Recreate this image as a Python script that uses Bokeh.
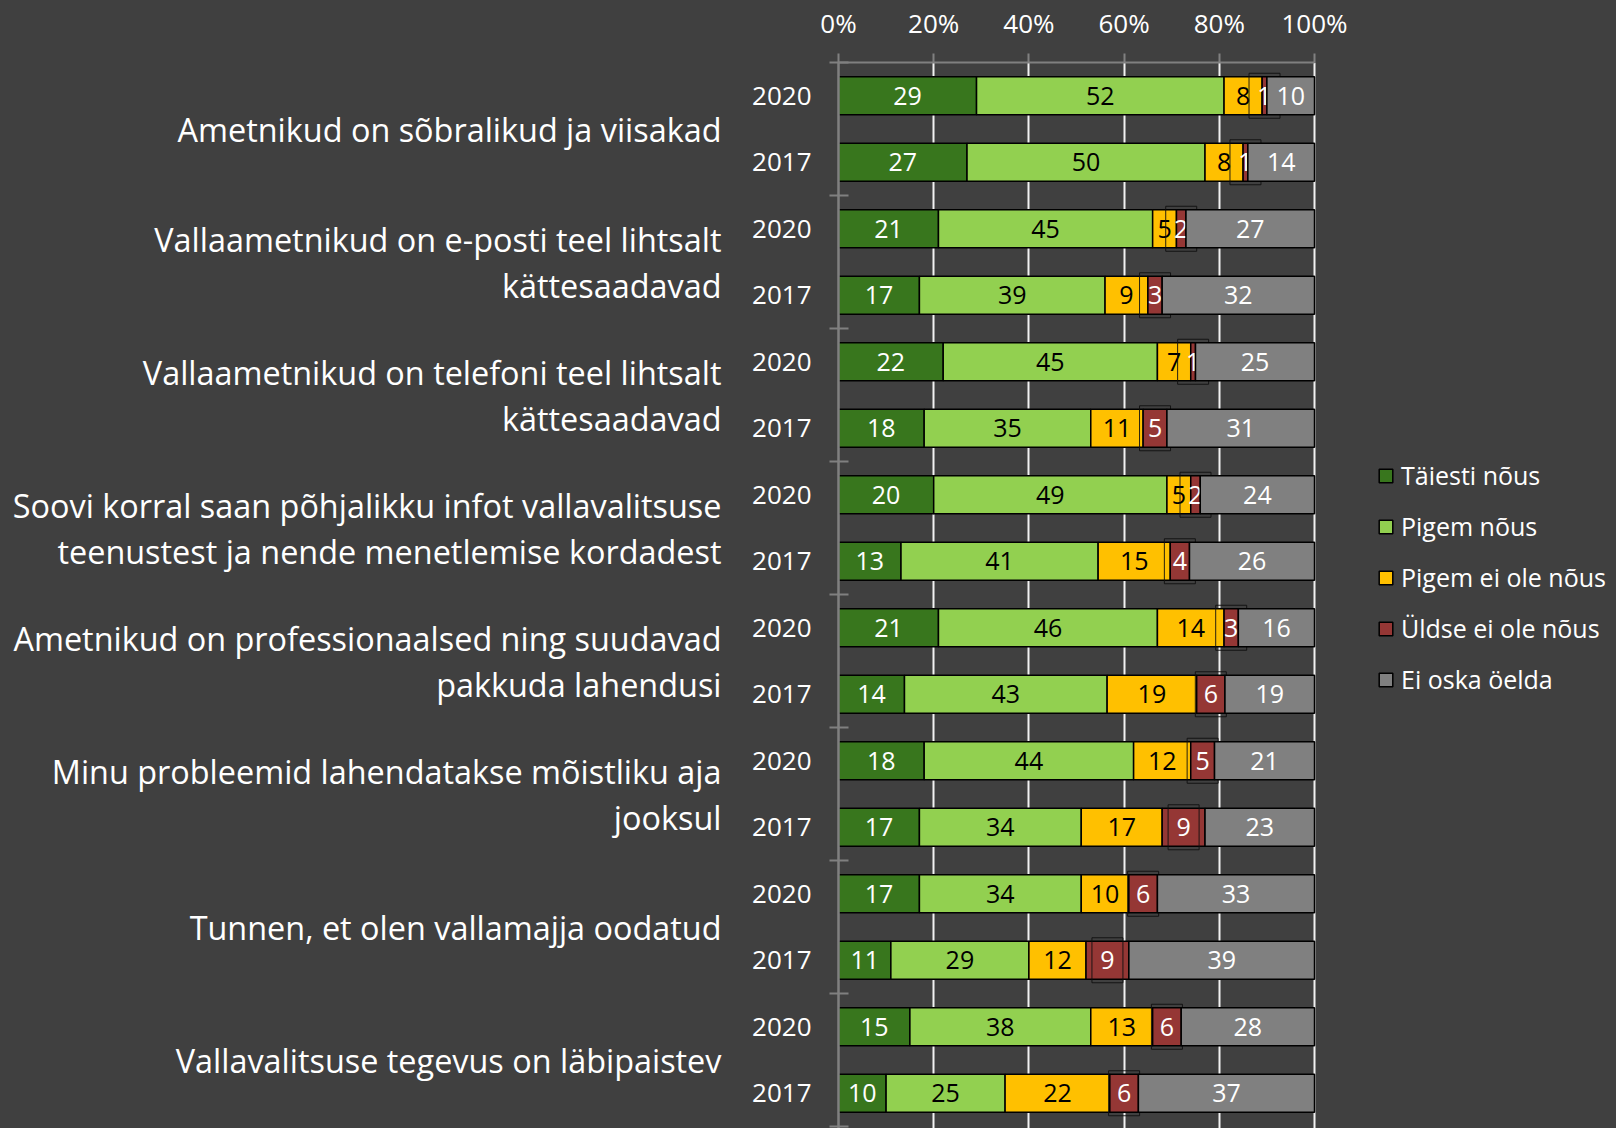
from bokeh.plotting import figure
from bokeh.models import (ColumnDataSource, Range1d, FixedTicker, Legend, LegendItem, LinearAxis)
from bokeh.core.properties import value
from bokeh.embed import file_html
from bokeh.resources import INLINE

# ---------------- data ----------------
categories = [
    "Ametnikud on sõbralikud ja viisakad",
    "Vallaametnikud on e-posti teel lihtsalt\nkättesaadavad",
    "Vallaametnikud on telefoni teel lihtsalt\nkättesaadavad",
    "Soovi korral saan põhjalikku infot vallavalitsuse\nteenustest ja nende menetlemise kordadest",
    "Ametnikud on professionaalsed ning suudavad\npakkuda lahendusi",
    "Minu probleemid lahendatakse mõistliku aja\njooksul",
    "Tunnen, et olen vallamajja oodatud",
    "Vallavalitsuse tegevus on läbipaistev",
]
years = ["2020", "2017"]
series = ["Täiesti nõus", "Pigem nõus", "Pigem ei ole nõus", "Üldse ei ole nõus", "Ei oska öelda"]

taiesti_2020 = [29, 21, 22, 20, 21, 18, 17, 15]
taiesti_2017 = [27, 17, 18, 13, 14, 17, 11, 10]
pigem_2020 = [52, 45, 45, 49, 46, 44, 34, 38]
pigem_2017 = [50, 39, 35, 41, 43, 34, 29, 25]
pigem_ei_2020 = [8, 5, 7, 5, 14, 12, 10, 13]
pigem_ei_2017 = [8, 9, 11, 15, 19, 17, 12, 22]
uldse_2020 = [1, 2, 1, 2, 3, 5, 6, 6]
uldse_2017 = [1, 3, 5, 4, 6, 9, 9, 6]
ei_oska_2020 = [10, 27, 25, 24, 16, 21, 33, 28]
ei_oska_2017 = [14, 32, 31, 26, 19, 23, 39, 37]

x_ticks = [0, 20, 40, 60, 80, 100]
x_tick_labels = ["0%", "20%", "40%", "60%", "80%", "100%"]

# ---------------- styles ----------------
colors = ["#38761D", "#92D050", "#FFC000", "#953735", "#808080"]
text_colors = ["white", "black", "black", "white", "white"]
BG = "#404040"
FONT = "Open Sans"

data_2020 = [taiesti_2020, pigem_2020, pigem_ei_2020, uldse_2020, ei_oska_2020]
data_2017 = [taiesti_2017, pigem_2017, pigem_ei_2017, uldse_2017, ei_oska_2017]

# rows: each category has a 2020 bar then a 2017 bar
row_y, row_vals = [], []
for i in range(len(categories)):
    row_y.append(2 * i + 0.5)
    row_vals.append([s[i] for s in data_2020])
    row_y.append(2 * i + 1.5)
    row_vals.append([s[i] for s in data_2017])

# frame spans to the right edge so the legend sits inside it; 100% is at 476 px
W, H, LEFT, TOP = 1616, 1128, 838, 62
x_end = 100.0 * (W - LEFT) / 476.0

p = figure(width=W, height=H,
           x_range=Range1d(0, x_end), y_range=Range1d(16.03, 0),
           x_axis_location="above",
           output_backend="svg", toolbar_location=None,
           background_fill_color=BG, border_fill_color=BG,
           min_border_left=LEFT, min_border_right=0,
           min_border_top=TOP, min_border_bottom=0)
p.outline_line_color = None
p.styles = {"background-color": BG}

renderers = []
for k in range(len(series)):
    ys, lefts, rights, cxs, labels = [], [], [], [], []
    for y, vals in zip(row_y, row_vals):
        tot = float(sum(vals))
        left = sum(vals[:k]) / tot * 100
        right = sum(vals[:k + 1]) / tot * 100
        ys.append(y)
        lefts.append(left)
        rights.append(right)
        cxs.append((left + right) / 2)
        labels.append(str(vals[k]))
    src = ColumnDataSource(dict(y=ys, left=lefts, right=rights, cx=cxs, label=labels))
    r = p.hbar(y="y", left="left", right="right", height=0.57, source=src,
               fill_color=colors[k], line_color="black", line_width=1.5)
    renderers.append(r)
    p.text(x="cx", y="y", text="label", source=src,
           text_align="center", text_baseline="middle",
           text_color=text_colors[k], text_font=value(FONT), text_font_size="25px")
    if k == 3:
        p.rect(x="cx", y="y", width=31, height=45, width_units="screen", height_units="screen",
               source=src, fill_alpha=0, line_color="#101010", line_alpha=0.9, line_width=1)

# ---------------- axes ----------------
xa = p.xaxis[0]
xa.ticker = FixedTicker(ticks=x_ticks)
xa.bounds = (0, 100)
xa.major_label_overrides = {t: l for t, l in zip(x_ticks, x_tick_labels)}
xa.axis_line_color = "#808080"
xa.axis_line_width = 2
xa.major_tick_line_color = "#808080"
xa.major_tick_line_width = 2
xa.major_tick_out = 9
xa.major_tick_in = 0
xa.minor_tick_line_color = None
xa.major_label_text_color = "white"
xa.major_label_text_font = FONT
xa.major_label_text_font_size = "26px"
xa.major_label_standoff = 13

ya = p.yaxis[0]
sep_ticks = [2 * i for i in range(len(categories) + 1)]
ya.ticker = FixedTicker(ticks=row_y, minor_ticks=sep_ticks)
ya.major_label_overrides = {y: years[j % 2] for j, y in enumerate(row_y)}
ya.axis_line_color = "#808080"
ya.axis_line_width = 2.5
ya.major_tick_line_color = None
ya.major_tick_out = 0
ya.major_tick_in = 0
ya.minor_tick_line_color = "#808080"
ya.minor_tick_line_width = 2
ya.minor_tick_out = 9
ya.minor_tick_in = 10
ya.major_label_text_color = "white"
ya.major_label_text_font = FONT
ya.major_label_text_font_size = "26px"
ya.major_label_standoff = 18

# category axis (group labels), further left
cat_ticks = [2 * i + 1 for i in range(len(categories))]
cat_axis = LinearAxis(ticker=FixedTicker(ticks=cat_ticks),
                      major_label_overrides={t: c for t, c in zip(cat_ticks, categories)})
cat_axis.axis_line_color = None
cat_axis.major_tick_line_color = None
cat_axis.minor_tick_line_color = None
cat_axis.major_tick_out = 0
cat_axis.minor_tick_out = 0
cat_axis.major_label_text_color = "white"
cat_axis.major_label_text_font = FONT
cat_axis.major_label_text_font_size = "32.4px"
cat_axis.major_label_text_line_height = 1.04
cat_axis.major_label_standoff = 28
p.add_layout(cat_axis, "left")

p.xgrid.grid_line_color = "#f2f2f2"
p.xgrid.grid_line_width = 2
p.ygrid.visible = False

# ---------------- legend ----------------
legend = Legend(items=[LegendItem(label=s, renderers=[r]) for s, r in zip(series, renderers)],
                location=(539, 432), orientation="vertical",
                background_fill_alpha=0, border_line_color=None,
                label_text_color="white", label_text_font=FONT, label_text_font_size="25px",
                glyph_width=17, glyph_height=17, label_standoff=7, spacing=17,
                padding=0, margin=0)
p.add_layout(legend)

open("out.html", "w").write(file_html(p, INLINE))
